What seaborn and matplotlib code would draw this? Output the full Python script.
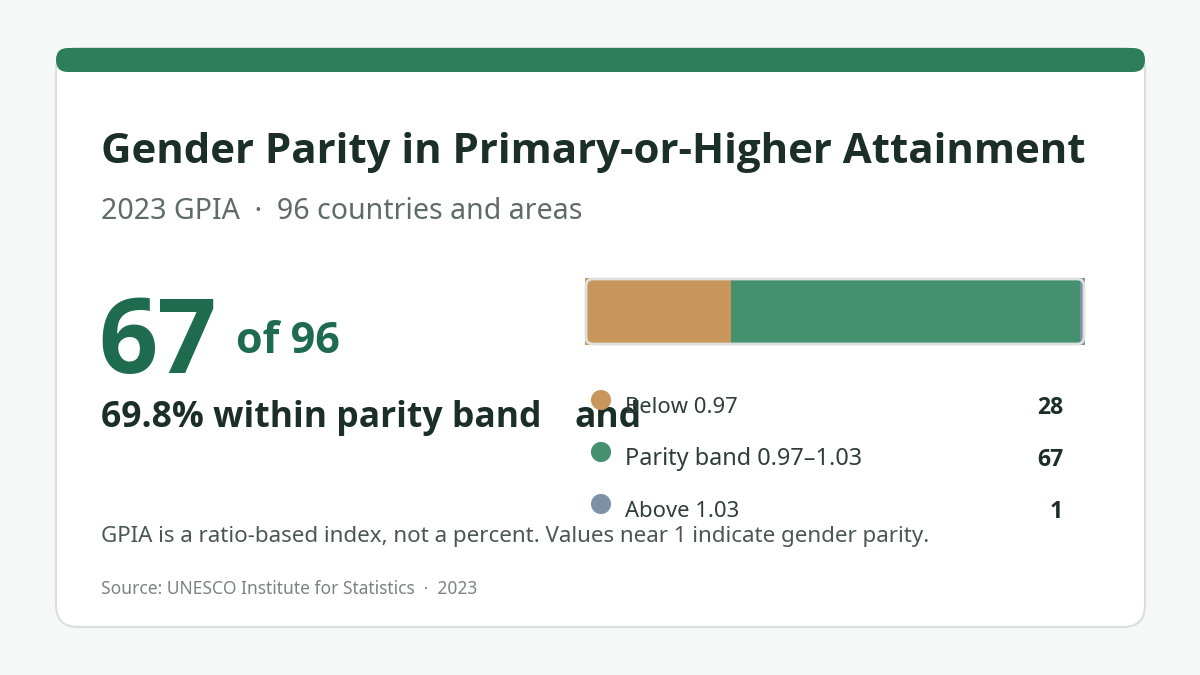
import matplotlib
matplotlib.use("Agg")
import matplotlib.pyplot as plt
from matplotlib.patches import FancyBboxPatch, Rectangle
import numpy as np
import pandas as pd
import seaborn as sns

# data
categories = ["Below 0.97", "Parity band 0.97\u20131.03", "Above 1.03"]
counts = [28, 67, 1]
colors = ["#c8965a", "#45906f", "#7f91a6"]
total = 96
in_band = 67
share_label = "69.8% within parity band"

title = "Gender Parity in Primary-or-Higher Attainment"
subtitle = "2023 GPIA  \u00b7  96 countries and areas"
note = "GPIA is a ratio-based index, not a percent. Values near 1 indicate gender parity."
source = "Source: UNESCO Institute for Statistics  \u00b7  2023"

sns.set_theme(style="white")
plt.rcParams["font.family"] = ["Noto Sans", "DejaVu Sans"]
BOLD = ["Open Sans", "Lato", "DejaVu Sans"]

W, H = 1200, 675
fig = plt.figure(figsize=(12, 6.75), dpi=100)
fig.patch.set_facecolor("#f6f8f7")

ax = fig.add_axes([0, 0, 1, 1])
ax.set_xlim(0, W)
ax.set_ylim(H, 0)
ax.axis("off")
renderer = fig.canvas.get_renderer()


def px(v):
    return v * 0.72


def fit(t, width):
    # scale a text so it spans the given pixel width
    w = t.get_window_extent(renderer).width
    t.set_fontsize(t.get_fontsize() * width / w)


# card
card = FancyBboxPatch((56, 48), 1089, 579, boxstyle="round,pad=0,rounding_size=22",
                      facecolor="white", edgecolor="#d9dfdc", linewidth=1.5, zorder=1)
ax.add_patch(card)
top = FancyBboxPatch((56, 48), 1089, 24, boxstyle="round,pad=0,rounding_size=12",
                     facecolor="#2e7d5b", edgecolor="none", zorder=2)
ax.add_patch(top)

dark = "#1b2e27"
green = "#1f6b4f"

t = ax.text(101, 163, title, fontsize=px(40), fontweight="bold", family=BOLD, color=dark,
            va="baseline", zorder=3)
fit(t, 989)
t = ax.text(101, 219, subtitle, fontsize=px(27), color="#5f6b66", va="baseline", zorder=3)
fit(t, 482)

ax.text(98, 373, str(in_band), fontsize=px(104), fontweight="bold", family=BOLD, color=green,
        va="baseline", zorder=3)
t = ax.text(236, 353, f"of {total}", fontsize=px(46), fontweight="bold", family=BOLD, color=green,
            va="baseline", zorder=3)
fit(t, 104)
t = ax.text(101, 427, share_label, fontsize=px(34), fontweight="bold", family=BOLD, color=dark,
            va="baseline", zorder=3)
fit(t, 440)
frag = ax.text(642, 427, "and", fontsize=t.get_fontsize(), fontweight="bold", family=BOLD,
               color=dark, va="baseline", ha="right", zorder=3)
frag.set_clip_path(Rectangle((578, 380), 100, 80, transform=ax.transData))

t = ax.text(101, 542, note, fontsize=px(20), color="#4a5752", va="baseline", zorder=3)
fit(t, 832)
t = ax.text(101, 594, source, fontsize=px(16), color="#7a8580", va="baseline", zorder=3)
fit(t, 376)

# legend
rows_y = [400, 452, 504]
leg = pd.DataFrame({"x": [601] * 3, "y": rows_y, "cat": categories})
sns.scatterplot(data=leg, x="x", y="y", hue="cat", palette=colors, hue_order=categories,
                s=210, edgecolor="none", legend=False, ax=ax, zorder=4)
for yy, cat, n in zip(rows_y, categories, counts):
    t = ax.text(625, yy + 13, cat, fontsize=px(22), color="#2e3d38", va="baseline", zorder=3)
    if cat == categories[1]:
        fit(t, 238)
    ax.text(1063, yy + 14, str(n), fontsize=px(23), fontweight="bold", family=BOLD, color=dark,
            va="baseline", ha="right", zorder=3)

# stacked bar
bx0, by0, bw, bh = 585, 278, 500, 67
bax = fig.add_axes([bx0 / W, 1 - (by0 + bh) / H, bw / W, bh / H])
cum = np.cumsum(counts)
bar_df = pd.DataFrame({"cat": categories, "cum": cum, "row": ["all"] * 3})
sns.barplot(data=bar_df, x="cum", y="row", hue="cat", hue_order=categories[::-1],
            palette=dict(zip(categories, colors)), dodge=False, width=1.0,
            orient="h", legend=False, ax=bax, saturation=1, linewidth=0)
bax.set_xlim(0, total)
bax.set_ylim(0.5, -0.5)
bax.axis("off")
border = FancyBboxPatch((bx0 + 1, by0 + 1), bw - 2, bh - 2, boxstyle="round,pad=0,rounding_size=7",
                        facecolor="none", edgecolor="#dde2e0", linewidth=2,
                        transform=ax.transData, clip_on=False, zorder=10)
bax.add_patch(border)

fig.savefig("out.png", dpi=100, facecolor=fig.get_facecolor())
